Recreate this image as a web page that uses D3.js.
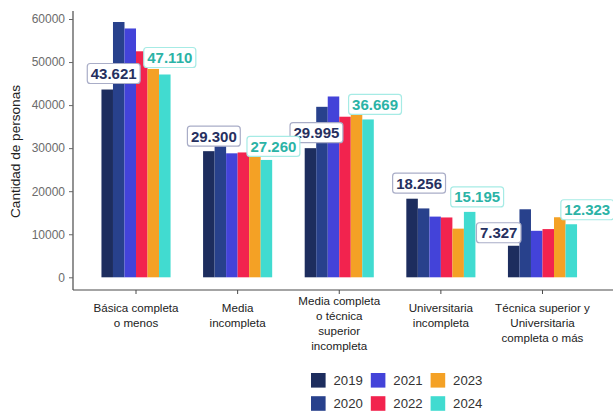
<!DOCTYPE html>
<html>
<head>
<meta charset="utf-8">
<script src="https://cdn.jsdelivr.net/npm/d3@7"></script>
<style>
  body { margin: 0; background: #fff; }
  svg { display: block; font-family: "Liberation Sans", Arial, sans-serif; }
</style>
</head>
<body>
<div id="chart"></div>
<script>
// Data
const categories = [
  ["Básica completa", "o menos"],
  ["Media", "incompleta"],
  ["Media completa", "o técnica", "superior", "incompleta"],
  ["Universitaria", "incompleta"],
  ["Técnica superior y", "Universitaria", "completa o más"]
];
const years = ["2019", "2020", "2021", "2022", "2023", "2024"];
const values2019 = [43621, 29300, 29995, 18256, 7327];
const values2020 = [59300, 30700, 39600, 16000, 15800];
const values2021 = [57800, 28800, 42000, 14100, 10800];
const values2022 = [52500, 29000, 37300, 13900, 11200];
const values2023 = [48400, 28500, 38000, 11300, 13950];
const values2024 = [47110, 27260, 36669, 15195, 12323];
const yTicks = [0, 10000, 20000, 30000, 40000, 50000, 60000];

// label nudges (ggrepel style placement)
const labelDx2019 = [6.5, 5, 6, 7, -15];
const labelGap2019 = [6, 5, 5.5, 5.5, 3];
const labelDx2024 = [5, 7, 7, 7.5, 16];
const labelGap2024 = [7, 3.5, 5, 5, 4.5];

const colors = ["#1d2d5e", "#28418c", "#4343d9", "#f2234e", "#f4a125", "#41dbd0"];

const width = 613, height = 413;
const series = [values2019, values2020, values2021, values2022, values2023, values2024];
const catKeys = categories.map(c => c.join(" "));

const esLocale = d3.formatLocale({ decimal: ",", thousands: ".", grouping: [3], currency: ["$", ""] });
const fmt = esLocale.format(",d");

const svg = d3.select("#chart").append("svg")
  .attr("width", width)
  .attr("height", height);

const y = d3.scaleLinear().domain([0, 60000]).range([277.3, 19]);
const x = d3.scaleBand().domain(catKeys).range([85.2, 593.3])
  .paddingInner(0.32).paddingOuter(0.16);
const xInner = d3.scaleBand().domain(years).range([0, x.bandwidth()]);

// axes lines
const axisColor = "#4a4a4a";
svg.append("line").attr("x1", 73).attr("x2", 73).attr("y1", 11).attr("y2", 290)
  .attr("stroke", axisColor).attr("stroke-width", 1.2);
svg.append("line").attr("x1", 73).attr("x2", width).attr("y1", 290).attr("y2", 290)
  .attr("stroke", axisColor).attr("stroke-width", 1.2);

// y ticks
const yAxis = svg.append("g").attr("transform", "translate(73,0)")
  .call(d3.axisLeft(y).tickValues(yTicks).tickSize(4).tickPadding(4).tickFormat(d3.format("d")));
yAxis.select(".domain").remove();
yAxis.selectAll(".tick line").attr("stroke", "#666");
yAxis.selectAll(".tick text").attr("fill", "#6b6b6b").style("font-size", "12px")
  .style("font-family", "'Liberation Sans', Arial, sans-serif");

// y title
svg.append("text")
  .attr("transform", "translate(20,151.5) rotate(-90)")
  .attr("text-anchor", "middle")
  .attr("fill", "#222")
  .style("font-size", "13.6px")
  .text("Cantidad de personas");

// x ticks and labels
const xg = svg.append("g");
catKeys.forEach((k, i) => {
  const cx = x(k) + x.bandwidth() / 2;
  xg.append("line").attr("x1", cx).attr("x2", cx).attr("y1", 290).attr("y2", 294)
    .attr("stroke", axisColor).attr("stroke-width", 1);
  const lines = categories[i];
  const startY = lines.length > 3 ? 305 : 312;
  const t = xg.append("text").attr("text-anchor", "middle").attr("fill", "#222")
    .style("font-size", "11.6px");
  lines.forEach((ln, j) => {
    t.append("tspan").attr("x", cx).attr("y", startY + j * 15).text(ln);
  });
});

// bars
const groups = svg.append("g").selectAll("g")
  .data(catKeys)
  .join("g")
  .attr("transform", d => `translate(${x(d)},0)`);

groups.selectAll("rect")
  .data((d, i) => years.map((yr, j) => ({ yr, j, v: series[j][i] })))
  .join("rect")
  .attr("x", d => xInner(d.yr))
  .attr("width", xInner.bandwidth())
  .attr("y", d => y(d.v))
  .attr("height", d => y(0) - y(d.v))
  .attr("fill", d => colors[d.j]);

// labels
function drawLabel(i, value, yrIdx, dx, gap, textColor, borderColor) {
  const bx = x(catKeys[i]) + xInner(years[yrIdx]) + xInner.bandwidth() / 2 + dx;
  const bottom = y(value) - gap;
  const g = svg.append("g");
  const rect = g.append("rect");
  const txt = g.append("text")
    .attr("x", bx).attr("y", bottom - 4.5)
    .attr("text-anchor", "middle")
    .attr("fill", textColor)
    .style("font-size", "15px")
    .style("font-weight", "bold")
    .text(fmt(value));
  const w = txt.node().getComputedTextLength() + 7;
  rect.attr("x", bx - w / 2).attr("y", bottom - 20).attr("width", w).attr("height", 20)
    .attr("rx", 3).attr("fill", "#fff").attr("stroke", borderColor).attr("stroke-width", 1.2);
}

values2019.forEach((v, i) => drawLabel(i, v, 0, labelDx2019[i], labelGap2019[i], "#26305f", "#a9adc7"));
values2024.forEach((v, i) => drawLabel(i, v, 5, labelDx2024[i], labelGap2024[i], "#2bb3a6", "#a6ebe5"));

// legend
const legend = svg.append("g").attr("transform", "translate(311,373)");
years.forEach((yr, j) => {
  const col = Math.floor(j / 2), row = j % 2;
  const lg = legend.append("g").attr("transform", `translate(${col * 59.8},${row * 23.2})`);
  lg.append("rect").attr("width", 14.6).attr("height", 14.6).attr("fill", colors[j]);
  lg.append("text").attr("x", 22.5).attr("y", 12.3).attr("fill", "#333")
    .style("font-size", "13.2px").text(yr);
});
</script>
</body>
</html>
